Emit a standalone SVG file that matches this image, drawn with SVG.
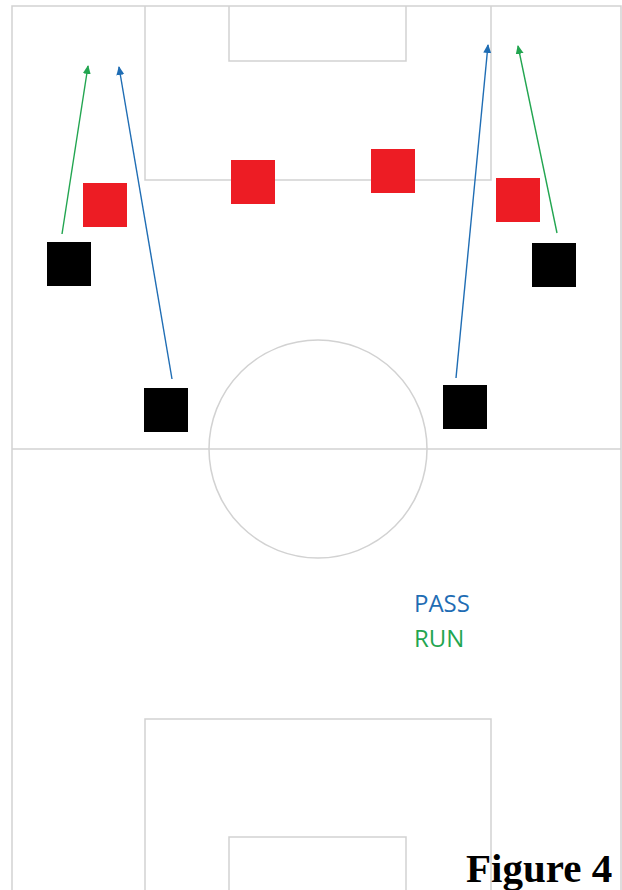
<svg xmlns="http://www.w3.org/2000/svg" width="622" height="890" viewBox="0 0 622 890">
<style>
.field{fill:none;stroke:#d2d2d2;stroke-width:1.5}
.red{fill:#ed1c24}
.black{fill:#000}
.pass{stroke:#1f6db4;stroke-width:1.4;fill:none}
.run{stroke:#22a550;stroke-width:1.4;fill:none}
.lbl{font-family:"Open Sans","Noto Sans",sans-serif;font-size:24px}
</style>
<defs>
<marker id="ahBlue" markerWidth="10" markerHeight="10" refX="8" refY="4" orient="auto" markerUnits="userSpaceOnUse">
<path d="M0,0 L9,4 L0,8 Z" fill="#1f6db4"/>
</marker>
<marker id="ahGreen" markerWidth="10" markerHeight="10" refX="8" refY="4" orient="auto" markerUnits="userSpaceOnUse">
<path d="M0,0 L9,4 L0,8 Z" fill="#22a550"/>
</marker>
</defs>
<rect width="622" height="890" fill="#fff"/>
<g id="pitch">
<path class="field" d="M12,890 V6 H621 V890"/>
<line class="field" x1="12" y1="449" x2="621" y2="449"/>
<circle class="field" cx="318" cy="449" r="109"/>
<path class="field" d="M145,6 V180 H491 V6"/>
<path class="field" d="M229,6 V61 H406 V6"/>
<path class="field" d="M145,890 V719 H491 V890"/>
<path class="field" d="M229,890 V837 H406 V890"/>
</g>
<g id="connectors">
<line class="run" x1="62" y1="234" x2="88" y2="66" marker-end="url(#ahGreen)"/>
<line class="pass" x1="172" y1="379" x2="119" y2="67" marker-end="url(#ahBlue)"/>
<line class="pass" x1="456" y1="378" x2="488" y2="45" marker-end="url(#ahBlue)"/>
<line class="run" x1="557" y1="233" x2="518" y2="46" marker-end="url(#ahGreen)"/>
</g>
<g id="red1"><rect class="red" x="83" y="183" width="44" height="44"/></g>
<g id="red2"><rect class="red" x="231" y="160" width="44" height="44"/></g>
<g id="red3"><rect class="red" x="371" y="149" width="44" height="44"/></g>
<g id="red4"><rect class="red" x="496" y="178" width="44" height="44"/></g>
<g id="black1"><rect class="black" x="47" y="242" width="44" height="44"/></g>
<g id="black2"><rect class="black" x="532" y="243" width="44" height="44"/></g>
<g id="black3"><rect class="black" x="144" y="388" width="44" height="44"/></g>
<g id="black4"><rect class="black" x="443" y="385" width="44" height="44"/></g>
<g id="legend">
<text class="lbl" x="414" y="612" fill="#1f6db4">PASS</text>
<text class="lbl" x="414" y="647" fill="#22a550">RUN</text>
</g>
<text x="466" y="882" font-family="'Liberation Serif','Times New Roman',serif" font-weight="bold" font-size="41" fill="#000">Figure 4</text>
</svg>
